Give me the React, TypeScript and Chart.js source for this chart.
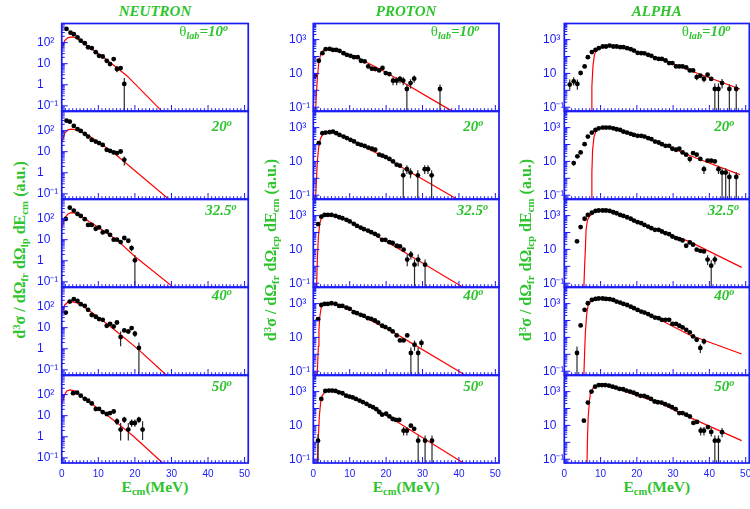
import React, { useEffect, useRef } from 'react';
import { Chart, registerables } from 'chart.js';

Chart.register(...registerables);

type Pt = [number, number];
type Err = [number, number, number]; // [E, low, high]

// ---------------- axes ----------------
const X_MIN = 0;
const X_MAX = 51;
const X_TICK_VALUES = [0, 10, 20, 30, 40, 50];
const PARTICLES = ['NEUTRON', 'PROTON', 'ALPHA'];
const ANGLES = ['10', '20', '32.5', '40', '50'];
const N_Y_TICKS = [0.1, 1, 10, 100];
const LCP_Y_TICKS = [0.1, 10, 1000];

// ---------------- NEUTRON ----------------
const nPts10: Pt[] = [[1.3,447],[2.4,295],[3.3,251],[4.3,178],[5.2,124],[6.3,93],[7.2,60],[8.2,55],[9.3,35],[10.2,23.6],[11.2,21.9],[12.3,13.7],[13.2,9.6],[14.2,16.5],[15.1,5.6],[16.1,6.2],[17.1,1.1]];
const nErr10: Err[] = [[15.1,3.9,8],[16.1,4.8,7.8],[17.1,0.001,2.1]];
const nFit10: Pt[] = [[0.15,55],[0.8,124],[1.7,172],[2.9,186],[4.2,162],[5.2,117],[12.3,15.2],[17.8,2.7],[26.9,0.068],[29.7,0.022]];

const nPts20: Pt[] = [[1.3,295],[2.2,265],[3.3,166],[4.3,117],[5.2,97],[6.3,70],[7.2,52],[8.2,36],[9.3,30],[10.2,25.5],[11.2,21],[12.3,12.3],[13.2,11],[14.2,9.2],[15.1,8.6],[16.1,10.2],[17.1,4.1]];
const nErr20: Err[] = [[17.1,2.2,5.9]];
const nFit20: Pt[] = [[0.15,30],[0.8,76],[1.7,108],[2.6,117],[4.0,108],[6.3,76],[10.4,25.5],[14.5,8],[29.2,0.057],[32.4,0.019]];

const nPts32: Pt[] = [[1.1,97],[2.2,330],[3.3,240],[4.3,166],[5.2,134],[6.3,94],[7.2,50],[8.2,50],[9.3,33],[10.2,38],[11.2,22],[12.3,24.5],[13.2,17],[14.2,10],[15.1,10],[16.1,7.7],[17.1,12],[18.2,8.9],[19.1,4.0],[20.0,1.05]];
const nErr32: Err[] = [[19.1,2.8,5.5],[20.0,0.001,1.9]];
const nFit32: Pt[] = [[0.15,42],[0.8,105],[1.7,166],[2.6,191],[4.0,178],[5.4,123],[10.4,35],[15,10],[20,1.6],[30.5,0.056],[33.3,0.022]];

const nPts40: Pt[] = [[1.1,52],[2.2,173],[3.3,224],[4.3,186],[5.2,130],[6.3,108],[7.2,70],[8.2,40],[9.3,33],[10.2,25.5],[11.2,23.6],[12.3,12.3],[13.2,15.3],[14.2,11.4],[15.1,17.6],[16.1,3.6],[17.1,7.4],[18.2,6.6],[19.1,9.6],[20.0,5.2],[21.1,1.1]];
const nErr40: Err[] = [[16.1,1.3,6.6],[20.0,3.6,7.2],[21.1,0.001,2.0]];
const nFit40: Pt[] = [[0.15,49],[0.8,120],[1.7,162],[2.6,173],[4.0,155],[5.4,120],[10.4,28],[15,6.6],[21,0.91],[28.2,0.065],[31,0.025]];

const nPts50: Pt[] = [[3.1,117],[4.2,124],[5.2,89],[6.3,63],[7.2,51],[8.2,38],[9.3,20.5],[10.2,21],[11.2,14.8],[12.3,12],[13.2,13.3],[14.2,15.8],[15.1,5.3],[16.1,2.2],[17.1,6.4],[18.2,2.2],[19.1,4.5],[20.0,4.5],[21.1,6.4],[22.1,2.2]];
const nErr50: Err[] = [[15.1,3.6,7.6],[16.1,0.67,4.5],[17.1,4.5,9],[18.2,0.67,4.5],[19.1,3,6.5],[20.0,3,6.5],[21.1,4.5,9],[22.1,0.7,5.5]];
const nFit50: Pt[] = [[0.1,39],[0.7,97],[1.4,149],[2.3,166],[3.7,149],[5.5,81],[10.4,19],[15,4.8],[19.6,1.05],[27.6,0.057],[30.5,0.02]];

// ---------------- PROTON ----------------
const pPts10: Pt[] = [[0.4,7.3],[1.5,56],[2.5,158],[3.4,270],[4.5,282],[5.4,245],[6.3,245],[7.2,218],[8.3,158],[9.2,126],[10.2,110],[11.2,92],[12.2,92],[13.1,56],[14.1,51],[15.1,26],[16.1,19],[17.0,18],[18.1,15],[19.0,21],[19.9,10.5],[20.9,9.2],[21.9,3.7],[22.9,3.7],[23.8,4.7],[24.7,3.7],[25.7,1.2],[26.7,2.7],[27.7,4.9],[34.8,1.2]];
const pErr10: Err[] = [[21.9,2,6],[22.9,2,6],[23.8,2.6,7],[24.7,2,6],[25.7,0.001,2.3],[26.7,1.3,4.5],[27.7,2.8,7.5],[34.8,0.001,2.2]];
const pFit10: Pt[] = [[0.5,0.02],[0.87,0.71],[1.15,6.6],[1.5,41],[2.0,126],[2.7,225],[3.8,282],[5.4,270],[8.2,173],[12.8,71],[19.2,14.4],[37.4,0.072],[41,0.025]];

const pPts20: Pt[] = [[1.5,120],[2.5,468],[3.4,510],[4.5,540],[5.4,580],[6.3,470],[7.2,370],[8.3,295],[9.2,240],[10.2,190],[11.2,152],[12.2,110],[13.1,96],[14.1,83],[15.1,66],[16.1,56],[17.0,49],[18.1,25],[19.0,22],[19.9,18],[20.9,14],[21.9,10],[22.9,6.4],[23.8,5.6],[24.7,1.5],[25.7,3.5],[26.7,2.2],[28.7,1.5],[30.6,3.5],[31.5,3.5],[32.5,1.5]];
const pErr20: Err[] = [[24.7,0.001,3.5],[25.7,1.8,6],[26.7,1.0,4],[28.7,0.001,3],[30.6,1.8,6],[31.5,1.8,6],[32.5,0.001,3]];
const pFit20: Pt[] = [[0.5,0.02],[0.87,0.83],[1.15,12.6],[1.5,76],[2.0,240],[2.7,425],[3.8,535],[5.4,535],[8.2,295],[12.8,96],[19.2,19.6],[39.3,0.062],[42,0.028]];

const pPts32: Pt[] = [[1.3,310],[2.2,870],[3.1,1100],[4.0,1100],[5.0,1100],[6.1,955],[7.1,800],[8.0,700],[9.1,560],[10.0,450],[11.1,325],[12.0,245],[13.0,196],[13.9,158],[15.0,131],[15.9,105],[16.9,84],[17.8,66],[18.9,37],[19.8,37],[20.9,27],[21.8,24],[22.9,16.5],[23.8,15],[24.8,9.6],[25.8,2.5],[26.8,4.9],[27.8,1.26],[28.8,2.5],[30.7,1.26]];
const pErr32: Err[] = [[25.8,1.0,5],[26.8,2.5,8],[27.8,0.001,2.5],[28.8,1,5],[30.7,0.001,2.5]];
const pFit32: Pt[] = [[0.85,0.03],[1.15,3.9],[1.4,58],[1.8,355],[2.2,700],[3.1,1000],[4.5,1100],[6.3,955],[9.1,560],[13.7,173],[19.2,37],[24.7,7.6],[41.1,0.058],[43.8,0.025]];

const pPts40: Pt[] = [[1.3,120],[2.2,830],[3.1,955],[4.0,955],[5.0,1050],[6.1,955],[7.1,725],[8.0,725],[9.1,575],[10.0,490],[11.1,310],[12.0,270],[13.0,218],[13.9,190],[15.0,138],[15.9,126],[16.9,100],[17.8,76],[18.9,49],[19.8,41],[20.9,31],[21.8,22.6],[22.9,13.2],[23.8,6.6],[24.8,6.6],[25.8,13.2],[26.8,1.2],[27.8,3.7],[28.8,1.2],[29.7,4.7]];
const pErr40: Err[] = [[26.8,0.001,2.5],[27.8,1.6,6.5],[28.8,0.001,2.5],[29.7,2.5,7.5]];
const pFit40: Pt[] = [[1.0,0.03],[1.4,3],[1.55,28],[1.8,173],[2.2,660],[3.1,955],[5.0,1050],[7.1,795],[10,470],[14.6,138],[20.9,28],[41.1,0.07],[43.9,0.03]];

const pPts50: Pt[] = [[1.3,1.26],[2.2,370],[3.3,1100],[4.3,1150],[5.2,1150],[6.1,1100],[7.0,910],[8.0,800],[9.0,575],[9.9,510],[10.8,450],[11.7,370],[12.7,295],[13.6,240],[14.6,190],[15.5,145],[16.4,120],[17.3,92],[18.1,62],[18.9,43],[20.0,49],[20.9,34],[21.8,24],[22.7,21],[23.6,21],[24.8,4.9],[25.7,4.9],[26.8,9.6],[27.7,6.3],[28.8,1.26],[30.7,1.26],[32.6,1.26]];
const pErr50: Err[] = [[1.3,0.001,3],[24.8,2.5,8],[25.7,2.5,8],[28.8,0.001,2.5],[30.7,0.001,2.5],[32.6,0.001,2.5]];
const pFit50: Pt[] = [[1.0,0.03],[1.4,2.2],[1.65,34],[2.0,210],[2.4,560],[3.3,1000],[4.9,1150],[7.0,955],[9.9,510],[14.5,180],[20.9,31],[41.1,0.062],[43.9,0.028]];

// ---------------- ALPHA ----------------
const aPts10: Pt[] = [[1.5,2.2],[2.6,3.4],[3.6,2.4],[4.5,10.6],[5.6,26],[6.5,92],[7.6,182],[8.6,246],[9.5,310],[10.6,390],[11.5,390],[12.5,445],[13.5,390],[14.4,390],[15.4,355],[16.3,355],[17.3,310],[18.3,270],[19.2,225],[20.2,165],[21.2,158],[22.1,155],[23.1,126],[24.0,110],[25.0,81],[26.0,72],[26.9,72],[27.9,58],[28.9,41],[29.8,41],[30.8,26],[31.7,26],[32.6,26],[33.6,22.6],[34.6,15],[35.5,15],[36.5,6.1],[37.5,7.3],[38.5,4.7],[39.5,8.4],[40.5,4.7],[41.5,1.2],[42.5,1.2],[43.5,2.7],[45.5,1.2],[47.4,1.2]];
const aErr10: Err[] = [[1.5,1.1,4.3],[2.6,1.9,6],[3.6,1.1,4.3],[36.5,4,9],[38.5,3,7],[41.5,0.001,2.5],[42.5,0.001,2.5],[43.5,1.3,4.6],[45.5,0.001,2.3],[47.4,0.001,2.3]];
const aFit10: Pt[] = [[7.45,0.03],[7.6,1.7],[7.9,26],[8.3,126],[8.8,225],[9.7,310],[11.5,390],[13.8,390],[17,295],[20.7,173],[27.9,56],[37,9.6],[48.4,1.2]];

const aPts20: Pt[] = [[2.6,8],[3.6,20],[4.5,34],[5.6,105],[6.5,295],[7.6,510],[8.6,725],[9.5,910],[10.6,1000],[11.5,1000],[12.5,1000],[13.5,910],[14.4,800],[15.4,725],[16.3,575],[17.3,510],[18.3,430],[19.2,370],[20.2,325],[21.2,325],[22.1,295],[23.1,240],[24.0,210],[25.0,150],[26.0,132],[26.9,105],[27.9,84],[28.9,84],[29.8,56],[30.8,49],[31.7,56],[32.6,34],[33.6,25],[34.6,14],[35.5,31],[36.5,25],[37.5,14],[38.5,3.5],[39.5,11],[40.5,11],[41.5,10],[42.5,3.5],[43.5,2.2],[44.5,2.2],[45.5,1.2],[47.4,1.2]];
const aErr20: Err[] = [[2.6,5.5,11],[34.6,9,19],[38.5,1.8,5.5],[42.5,1.8,5.5],[43.5,0.001,4],[44.5,0.001,4],[45.5,0.001,2.3],[47.4,0.001,2.3]];
const aFit20: Pt[] = [[7.45,0.03],[7.6,2.1],[7.8,49],[8.2,295],[8.8,645],[9.7,910],[11.5,1050],[13.3,955],[17,510],[22.4,270],[27.9,84],[37,14],[48.4,1.66]];

const aPts32: Pt[] = [[3.5,30],[4.5,210],[5.6,650],[6.5,1100],[7.6,1500],[8.6,1900],[9.5,2000],[10.6,2000],[11.5,2000],[12.5,1900],[13.5,1580],[14.4,1380],[15.4,1100],[16.3,955],[17.3,800],[18.3,650],[19.2,510],[20.2,410],[21.2,355],[22.1,282],[23.1,225],[24.0,180],[25.0,145],[26.0,145],[26.9,115],[27.9,92],[28.9,80],[29.8,58],[30.8,47],[31.7,41],[32.6,34],[33.6,16.5],[34.6,26],[35.5,19],[36.5,9.6],[37.5,8.3],[38.5,7.6],[39.5,2.5],[40.5,1.1],[41.5,2.5]];
const aErr32: Err[] = [[39.5,1.2,4.5],[40.5,0.001,2.3],[41.5,1.3,4.3]];
const aFit32: Pt[] = [[5.35,0.03],[5.6,1.0],[5.8,9.6],[6.0,145],[6.4,560],[7.0,955],[8.4,1580],[9.7,2000],[11.5,2000],[13.8,1510],[18.8,560],[25.2,145],[34.4,30],[48.9,0.87]];

const aPts40: Pt[] = [[3.5,1.2],[4.5,51],[5.6,430],[6.5,1050],[7.6,1650],[8.6,1900],[9.5,2000],[10.6,2000],[11.5,1900],[12.5,1820],[13.5,1650],[14.4,1320],[15.4,1150],[16.3,955],[17.3,830],[18.3,660],[19.2,540],[20.2,425],[21.2,340],[22.1,295],[23.1,240],[24.0,190],[25.0,150],[26.0,138],[26.9,110],[27.9,110],[28.9,110],[29.8,63],[30.8,63],[31.7,49],[32.6,39],[33.6,28],[34.6,20],[35.5,11.5],[36.5,7.3],[37.5,2.4],[38.5,5.8]];
const aErr40: Err[] = [[3.5,0.001,2.9],[37.5,1.2,4],[38.5,3.8,8.5]];
const aFit40: Pt[] = [[5.35,0.03],[5.6,1.2],[5.8,18],[6.2,275],[6.6,830],[7.4,1510],[8.8,1900],[10.6,2000],[13.8,1510],[18.8,620],[25.2,150],[34.4,14.4],[48.9,1.05]];

const aPts50: Pt[] = [[5.4,19],[6.5,225],[7.5,1000],[8.5,1950],[9.5,2450],[10.4,2450],[11.3,2450],[12.3,2240],[13.3,1950],[14.2,1730],[15.2,1450],[16.2,1380],[17.1,1150],[18.1,1000],[19.1,870],[20.0,700],[21.0,560],[22.0,560],[22.9,470],[23.9,370],[24.9,260],[25.8,235],[26.8,225],[27.8,180],[28.8,150],[29.7,120],[30.7,92],[31.7,54],[32.6,54],[33.6,43],[34.6,34],[35.6,14],[36.6,16],[37.6,4.9],[38.5,4.9],[39.6,8],[40.5,4.1],[41.5,1.26],[42.5,1.26],[43.5,4.0]];
const aErr50: Err[] = [[37.6,2.5,8],[38.5,2.5,8],[40.5,2.2,7],[41.5,0.001,2.5],[42.5,0.001,2.5],[43.5,2,7]];
const aFit50: Pt[] = [[6.25,0.03],[6.4,2.2],[6.6,34],[6.9,260],[7.2,800],[7.9,1580],[8.8,2190],[10.2,2450],[11.6,2350],[14.2,1580],[19.6,630],[26,225],[35,27],[48.9,1.26]];

const PTS: Pt[][][] = [
  [nPts10, nPts20, nPts32, nPts40, nPts50],
  [pPts10, pPts20, pPts32, pPts40, pPts50],
  [aPts10, aPts20, aPts32, aPts40, aPts50],
];
const ERRS: Err[][][] = [
  [nErr10, nErr20, nErr32, nErr40, nErr50],
  [pErr10, pErr20, pErr32, pErr40, pErr50],
  [aErr10, aErr20, aErr32, aErr40, aErr50],
];
const FITS: Pt[][][] = [
  [nFit10, nFit20, nFit32, nFit40, nFit50],
  [pFit10, pFit20, pFit32, pFit40, pFit50],
  [aFit10, aFit20, aFit32, aFit40, aFit50],
];

// ---------------- layout / style ----------------
const BLUE = '#1a1af5';
const GREEN = '#2ec42e';
const RED = '#ff0000';
const SANS = '"Liberation Sans", Arial, Helvetica, sans-serif';
const SERIF = '"Liberation Serif", "Times New Roman", Times, serif';

const COL_LEFT = [61.75, 313.3, 564.3];
const COL_WIDTH = [186.5, 185.7, 185];
const COL_LABEL_LEFT = [37, 289, 543];
const Y_RANGE = [
  [Math.pow(10, -1.245), Math.pow(10, 2.906)],
  [Math.pow(10, -1.223), Math.pow(10, 3.953)],
  [Math.pow(10, -1.223), Math.pow(10, 3.953)],
];
const Y_TICKS = [N_Y_TICKS, LCP_Y_TICKS, LCP_Y_TICKS];
const TOP0 = 23.5;
const ROW_STEP = 88;
const PLOT_H = 87.5;

const SUPS: Record<string, string> = { '-': '\u207B', '1': '\u00B9', '2': '\u00B2', '3': '\u00B3' };
function logLabel(v: number): string {
  const e = Math.round(Math.log10(v));
  if (e === 0) return '1';
  if (e === 1) return '10';
  return '10' + String(e).split('').map((ch) => SUPS[ch] || ch).join('');
}

const framePlugin = {
  id: 'rootFrame',
  afterDraw(chart: any) {
    const { ctx, chartArea: a, scales } = chart;
    const xs = scales.x;
    const ys = scales.y;
    ctx.save();
    ctx.strokeStyle = BLUE;
    ctx.lineWidth = 1;
    ctx.beginPath();
    for (let e = Math.ceil(xs.min); e <= xs.max; e++) {
      const px = xs.getPixelForValue(e);
      const len = e % 10 === 0 ? 6 : 2.8;
      ctx.moveTo(px, a.bottom);
      ctx.lineTo(px, a.bottom - len);
    }
    const d0 = Math.floor(Math.log10(ys.min));
    const d1 = Math.ceil(Math.log10(ys.max));
    for (let d = d0; d <= d1; d++) {
      for (let m = 1; m <= 9; m++) {
        const v = m * Math.pow(10, d);
        if (v < ys.min || v > ys.max) continue;
        const py = ys.getPixelForValue(v);
        const len = m === 1 ? 6 : 3;
        ctx.moveTo(a.left, py);
        ctx.lineTo(a.left + len, py);
      }
    }
    ctx.stroke();
    ctx.lineWidth = 1.7;
    ctx.strokeRect(a.left, a.top, a.right - a.left, a.bottom - a.top);
    ctx.restore();
  },
};

function Panel({ col, row }: { col: number; row: number }) {
  const ref = useRef<HTMLCanvasElement | null>(null);
  const isBottom = row === 4;
  const plotTop = TOP0 + row * ROW_STEP;
  const canvasTop = Math.floor(plotTop) - 10;
  const padTop = plotTop - canvasTop;
  const xAxisH = isBottom ? 24 : 0;
  const yW = COL_LEFT[col] - COL_LABEL_LEFT[col];
  const width = Math.ceil(yW + COL_WIDTH[col] + 10);
  const height = Math.ceil(padTop + PLOT_H + xAxisH + 10);
  const padRight = width - yW - COL_WIDTH[col];
  const padBottom = height - padTop - PLOT_H - xAxisH;

  useEffect(() => {
    const pts = PTS[col][row];
    const fit = FITS[col][row];
    const errs = ERRS[col][row];
    const errData: any[] = [];
    errs.forEach(([x, lo, hi]) => {
      errData.push({ x, y: lo }, { x, y: hi }, { x, y: null });
    });
    const chart = new Chart(ref.current as HTMLCanvasElement, {
      type: 'scatter',
      data: {
        datasets: [
          {
            data: pts.map(([x, y]) => ({ x, y })),
            pointRadius: 2.4,
            pointBackgroundColor: '#000',
            pointBorderWidth: 0,
            showLine: false,
          },
          {
            data: errData,
            showLine: true,
            spanGaps: false,
            borderColor: '#2a2a2a',
            borderWidth: 1.2,
            pointRadius: 0,
          },
          {
            data: fit.map(([x, y]) => ({ x, y })),
            showLine: true,
            borderColor: RED,
            borderWidth: 1.2,
            pointRadius: 0,
            tension: 0,
          },
        ] as any,
      },
      options: {
        animation: false,
        responsive: false,
        maintainAspectRatio: false,
        events: [],
        layout: { padding: { top: padTop, bottom: padBottom, left: 0, right: padRight } },
        plugins: { legend: { display: false }, tooltip: { enabled: false }, title: { display: false } },
        scales: {
          x: {
            type: 'linear',
            min: X_MIN,
            max: X_MAX,
            display: isBottom,
            grid: { display: false, drawTicks: false },
            border: { display: false },
            ticks: {
              color: BLUE,
              font: { family: SANS, size: 10 },
              padding: 5,
              autoSkip: false,
              maxRotation: 0,
              callback: (v: any) => String(v),
            },
            afterBuildTicks: (s: any) => {
              s.ticks = X_TICK_VALUES.map((v) => ({ value: v }));
            },
            afterFit: (s: any) => {
              s.height = xAxisH;
            },
          },
          y: {
            type: 'logarithmic',
            min: Y_RANGE[col][0],
            max: Y_RANGE[col][1],
            grid: { display: false, drawTicks: false },
            border: { display: false },
            ticks: {
              color: BLUE,
              font: { family: SANS, size: 12 },
              crossAlign: 'far',
              padding: 0,
              autoSkip: false,
              callback: (v: any) => logLabel(Number(v)),
            },
            afterBuildTicks: (s: any) => {
              s.ticks = Y_TICKS[col].map((v) => ({ value: v }));
            },
            afterFit: (s: any) => {
              s.width = yW;
            },
          },
        } as any,
      },
      plugins: [framePlugin],
    });
    return () => chart.destroy();
  }, [col, row]);

  return (
    <canvas
      ref={ref}
      width={width}
      height={height}
      style={{ position: 'absolute', left: COL_LABEL_LEFT[col], top: canvasTop, width, height }}
    />
  );
}

const supStyle: React.CSSProperties = { fontSize: '0.68em', position: 'relative', top: '-0.5em' };
const subStyle: React.CSSProperties = { fontSize: '0.68em', position: 'relative', top: '0.3em' };

const ANGLE_LEFT = [117.5, 150, 143.5, 150, 150];
const ANGLE_BASE = [37, 132, 215.5, 300.5, 392];
const Y_TITLE_X = [19.5, 270.5, 526];
const Y_TITLE_SUB = ['lp', 'lcp', 'lcp'];

export default function App() {
  const textBase: React.CSSProperties = {
    position: 'absolute',
    fontFamily: SERIF,
    fontWeight: 'bold',
    color: GREEN,
    whiteSpace: 'nowrap',
    lineHeight: '15px',
    fontSize: 15,
  };
  const items: React.ReactNode[] = [];
  for (let c = 0; c < 3; c++) {
    const center = COL_LEFT[c] + COL_WIDTH[c] / 2;
    items.push(
      <div key={'t' + c} style={{ ...textBase, fontStyle: 'italic', left: center, top: 4, transform: 'translateX(-50%)' }}>
        {PARTICLES[c]}
      </div>
    );
    items.push(
      <div key={'x' + c} style={{ ...textBase, fontSize: 15.5, left: center, top: 479, transform: 'translateX(-50%)' }}>
        E<span style={subStyle}>cm</span>(MeV)
      </div>
    );
    items.push(
      <div
        key={'y' + c}
        style={{
          ...textBase,
          fontSize: 16,
          lineHeight: '16px',
          left: Y_TITLE_X[c],
          top: 249.5,
          transform: 'translate(-50%, -50%) rotate(-90deg)',
        }}
      >
        d<span style={supStyle}>3</span>σ / dΩ<span style={subStyle}>fr</span> dΩ<span style={subStyle}>{Y_TITLE_SUB[c]}</span> dE
        <span style={subStyle}>cm</span> (a.u.)
      </div>
    );
    for (let r = 0; r < 5; r++) {
      items.push(<Panel key={'p' + c + '-' + r} col={c} row={r} />);
      items.push(
        <div
          key={'a' + c + '-' + r}
          style={{ ...textBase, fontStyle: 'italic', left: COL_LEFT[c] + ANGLE_LEFT[r], top: ANGLE_BASE[r] - 12.6 }}
        >
          {r === 0 ? (
            <>
              <span style={{ fontStyle: 'normal', fontWeight: 'normal' }}>θ</span>
              <span style={subStyle}>lab</span>=
            </>
          ) : null}
          {ANGLES[r]}
          <span style={supStyle}>o</span>
        </div>
      );
    }
  }
  return (
    <div
      style={{
        position: 'absolute',
        left: 0,
        top: 0,
        width: 750,
        height: 509,
        overflow: 'hidden',
        background: '#fff',
      }}
    >
      {items}
    </div>
  );
}
